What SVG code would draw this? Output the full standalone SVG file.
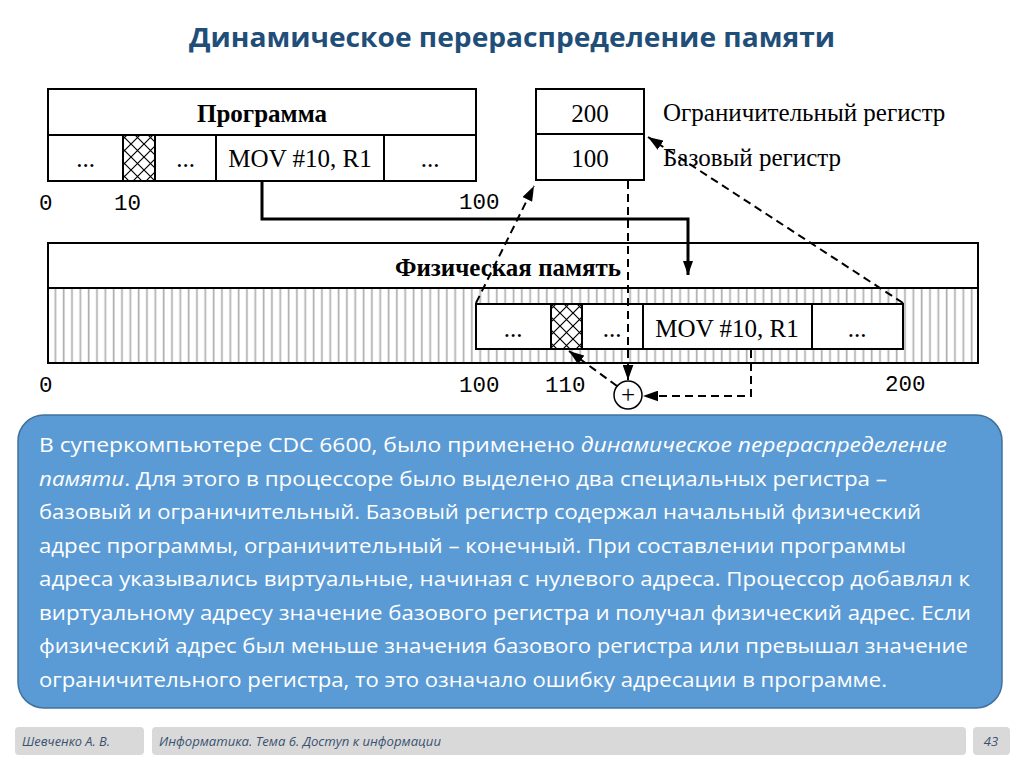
<svg xmlns="http://www.w3.org/2000/svg" width="1024" height="767" viewBox="0 0 1024 767">
<defs>
<style>
.box{fill:#fff;stroke:#000;stroke-width:2}
.ser{font-family:"Liberation Serif","Times New Roman",serif;font-size:25px;fill:#000}
.b{font-weight:bold}
.mono{font-family:"Liberation Mono","Courier New",monospace;font-size:22.5px;fill:#000}
.dash{fill:none;stroke:#000;stroke-width:2;stroke-dasharray:8,5}
.solid{fill:none;stroke:#000;stroke-width:3}
.para{font-family:"Open Sans","Noto Sans",sans-serif;font-size:20px;fill:#fff}
.foot{font-family:"Open Sans","Noto Sans",sans-serif;font-size:13px;font-style:italic;fill:#3a5270}
.fbox{fill:#d9d9d9}
</style>
<pattern id="xh" patternUnits="userSpaceOnUse" x="1" y="1" width="13" height="13">
<rect width="13" height="13" fill="#fff"/>
<path d="M0,0L13,13M13,0L0,13" stroke="#000" stroke-width="1.2"/>
</pattern>
<pattern id="vh" patternUnits="userSpaceOnUse" x="51" y="0" width="8.33" height="10">
<rect width="8.33" height="10" fill="#fff"/>
<rect x="3.5" y="0" width="1.7" height="10" fill="#b0b0b0"/>
</pattern>
<marker id="ahs" viewBox="0 0 14 10" refX="14" refY="5" markerWidth="14" markerHeight="10" markerUnits="userSpaceOnUse" orient="auto">
<path d="M0,0L14,5L0,10z" fill="#000"/>
</marker>
<marker id="ahd" viewBox="0 0 14 10" refX="14" refY="5" markerWidth="15" markerHeight="11" markerUnits="userSpaceOnUse" orient="auto">
<path d="M0,0L14,5L0,10z" fill="#000"/>
</marker>
</defs>
<rect width="1024" height="767" fill="#fff"/>

<text x="512" y="47" text-anchor="middle" font-family="'Open Sans','Noto Sans',sans-serif" font-size="27" font-weight="bold" fill="#1f4e79" textLength="646" lengthAdjust="spacingAndGlyphs">Динамическое перераспределение памяти</text>

<g id="program">
<rect class="box" x="48" y="89" width="428" height="46"/>
<rect class="box" x="48" y="135" width="428" height="46"/>
<rect x="123" y="135" width="32" height="46" fill="url(#xh)" stroke="#000" stroke-width="2"/>
<line x1="216" y1="135" x2="216" y2="181" stroke="#000" stroke-width="2"/>
<line x1="384" y1="135" x2="384" y2="181" stroke="#000" stroke-width="2"/>
<text class="ser b" x="262" y="122" text-anchor="middle">Программа</text>
<text class="ser" x="85.5" y="167" text-anchor="middle">...</text>
<text class="ser" x="185.5" y="167" text-anchor="middle">...</text>
<text class="ser" x="300" y="167" text-anchor="middle">MOV #10, R1</text>
<text class="ser" x="430" y="167" text-anchor="middle">...</text>
<text class="mono" x="39" y="210">0</text>
<text class="mono" x="114" y="210">10</text>
<text class="mono" x="459" y="209">100</text>
</g>

<g id="registers">
<rect class="box" x="536" y="89" width="108" height="45"/>
<rect class="box" x="536" y="134" width="108" height="46"/>
<text class="ser" x="590" y="122" text-anchor="middle">200</text>
<text class="ser" x="590" y="167" text-anchor="middle">100</text>
<text class="ser" x="663" y="121" font-size="26.5">Ограничительный регистр</text>
<text class="ser" x="663" y="166" font-size="26.5">Базовый регистр</text>
</g>

<g id="physical">
<rect class="box" x="48" y="243" width="930" height="45"/>
<rect x="48" y="288" width="930" height="75" fill="url(#vh)" stroke="#000" stroke-width="2"/>
<text class="ser b" x="508" y="276" text-anchor="middle">Физическая память</text>
<rect class="box" x="476" y="304" width="427" height="45"/>
<rect x="551" y="304" width="31" height="45" fill="url(#xh)" stroke="#000" stroke-width="2"/>
<line x1="643" y1="304" x2="643" y2="349" stroke="#000" stroke-width="2"/>
<line x1="812" y1="304" x2="812" y2="349" stroke="#000" stroke-width="2"/>
<text class="ser" x="513" y="337" text-anchor="middle">...</text>
<text class="ser" x="612" y="337" text-anchor="middle">...</text>
<text class="ser" x="727" y="337" text-anchor="middle">MOV #10, R1</text>
<text class="ser" x="857" y="337" text-anchor="middle">...</text>
<text class="mono" x="39" y="392">0</text>
<text class="mono" x="459" y="392">100</text>
<text class="mono" x="545" y="392">110</text>
<text class="mono" x="885" y="391">200</text>
</g>

<g id="adder">
<circle cx="628" cy="395" r="14" fill="#fff" stroke="#000" stroke-width="1.5"/>
<text class="ser" x="628" y="403" text-anchor="middle" font-size="22">+</text>
</g>

<g id="connectors">
<polyline class="solid" points="262,181 262,219 688,219 688,275" marker-end="url(#ahs)"/>
<line class="dash" x1="476" y1="303" x2="534" y2="186" marker-end="url(#ahd)"/>
<line class="dash" x1="903" y1="303" x2="648" y2="137" marker-end="url(#ahd)"/>
<line class="dash" x1="628" y1="181" x2="628" y2="380" marker-end="url(#ahd)"/>
<polyline class="dash" points="751,350 751,396 643,396" marker-end="url(#ahd)"/>
<line class="dash" x1="617" y1="386" x2="569" y2="351" marker-end="url(#ahd)"/>
</g>

<g id="textbox">
<rect x="18" y="415" width="984" height="293" rx="26" fill="#5b9bd5" stroke="#41719c" stroke-width="1.5"/>
<text class="para" x="39" y="452" textLength="908" lengthAdjust="spacingAndGlyphs">В суперкомпьютере CDC 6600, было применено <tspan font-style="italic">динамическое перераспределение</tspan></text>
<text class="para" x="39" y="485.5" textLength="848" lengthAdjust="spacingAndGlyphs"><tspan font-style="italic">памяти</tspan>. Для этого в процессоре было выделено два специальных регистра –</text>
<text class="para" x="39" y="519" textLength="882" lengthAdjust="spacingAndGlyphs">базовый и ограничительный. Базовый регистр содержал начальный физический</text>
<text class="para" x="39" y="552.5" textLength="867" lengthAdjust="spacingAndGlyphs">адрес программы, ограничительный – конечный. При составлении программы</text>
<text class="para" x="39" y="586" textLength="931" lengthAdjust="spacingAndGlyphs">адреса указывались виртуальные, начиная с нулевого адреса. Процессор добавлял к</text>
<text class="para" x="39" y="619.5" textLength="932" lengthAdjust="spacingAndGlyphs">виртуальному адресу значение базового регистра и получал физический адрес. Если</text>
<text class="para" x="39" y="653" textLength="929" lengthAdjust="spacingAndGlyphs">физический адрес был меньше значения базового регистра или превышал значение</text>
<text class="para" x="39" y="686.5" textLength="848" lengthAdjust="spacingAndGlyphs">ограничительного регистра, то это означало ошибку адресации в программе.</text>
</g>

<g id="footer">
<rect class="fbox" x="15" y="727" width="129" height="28" rx="4"/>
<rect class="fbox" x="152" y="727" width="814" height="28" rx="4"/>
<rect class="fbox" x="973" y="727" width="37" height="28" rx="4"/>
<text class="foot" x="22" y="746" textLength="88" lengthAdjust="spacingAndGlyphs">Шевченко А. В.</text>
<text class="foot" x="159" y="746" textLength="282" lengthAdjust="spacingAndGlyphs">Информатика. Тема 6. Доступ к информации</text>
<text class="foot" x="991" y="746" text-anchor="middle" font-style="normal">43</text>
</g>
</svg>
